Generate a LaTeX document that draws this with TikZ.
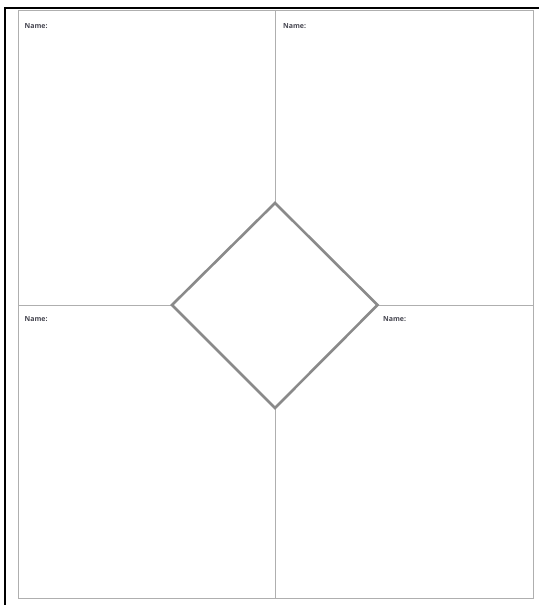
\documentclass[tikz,border=0pt]{standalone}
\usepackage{fontspec}
\setmainfont{Open Sans}
\definecolor{diamgray}{RGB}{138,138,138}
\definecolor{linegray}{RGB}{175,175,175}
\definecolor{txtgray}{RGB}{70,70,80}
\begin{document}
\begin{tikzpicture}[x=1pt,y=-1pt,
  frame/.style={black,line width=2pt},
  grid/.style={draw=linegray,line width=1pt},
  diam/.style={draw=diamgray,line width=2.6pt,line join=miter},
  lbl/.style={anchor=west,inner sep=0pt,font=\fontsize{7}{8}\selectfont\bfseries,text=txtgray}]
\useasboundingbox (0,0) rectangle (539,605);
% outer black frame (left and top)
\coordinate (fbl) at (5,605);
\coordinate (ftl) at (5,8);
\coordinate (ftr) at (539,8);
\draw[frame] (fbl) -- (ftl) -- (ftr);
% gray rectangle
\coordinate (rtl) at (18,10.5);
\coordinate (rbr) at (533,598.5);
\draw[grid] (rtl) rectangle (rbr);
% center lines
\coordinate (ct) at (275,10.5);
\coordinate (cb) at (275,598.5);
\coordinate (cl) at (18,305);
\coordinate (cr) at (533,305);
\draw[grid] (ct) -- (cb);
\draw[grid] (cl) -- (cr);
% diamond
\coordinate (dt) at (275,203);
\coordinate (dr) at (377.5,305);
\coordinate (db) at (275,408);
\coordinate (dl) at (172,305);
\filldraw[diam,fill=white] (dt) -- (dr) -- (db) -- (dl) -- cycle;
% labels
\node[lbl] (n1) at (24.5,26) {Name:};
\node[lbl] (n2) at (283,26) {Name:};
\node[lbl] (n3) at (24.5,319.5) {Name:};
\node[lbl] (n4) at (383,319.5) {Name:};
\end{tikzpicture}
\end{document}
